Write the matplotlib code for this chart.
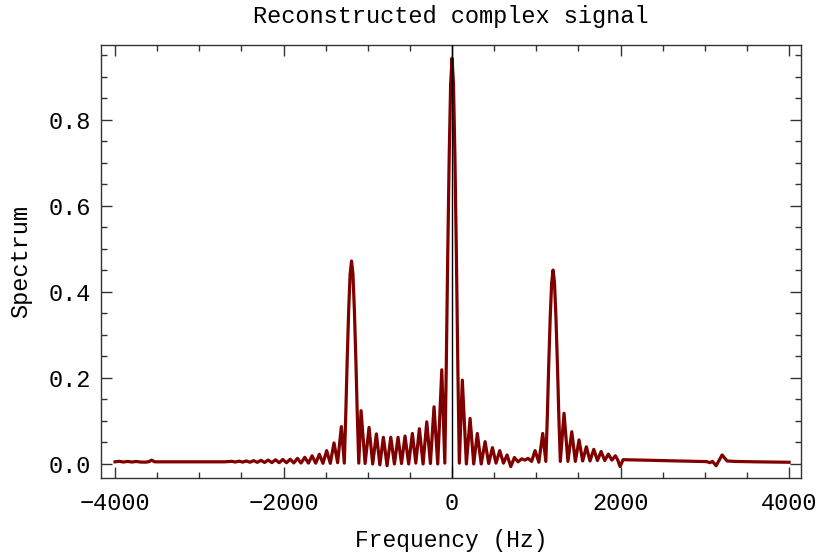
import matplotlib
matplotlib.use('Agg')
import matplotlib.pyplot as plt
from matplotlib.ticker import MultipleLocator, FixedLocator, FormatStrFormatter

plt.rcParams['font.family'] = ['Liberation Mono', 'DejaVu Sans Mono']

# spectrum (peaks and troughs of each lobe)
freq_hz = [
    -4000, -3950, -3900, -3850, -3800, -3750, -3700, -3640, -3600, -3565, -3530,
    -3450, -2700,
    -2615, -2572, -2528, -2485, -2442, -2398, -2355, -2312, -2268, -2225,
    -2182, -2138, -2095, -2052, -2008, -1965, -1921, -1878, -1835, -1792,
    -1748, -1705, -1661, -1618, -1575, -1532, -1488, -1445, -1401, -1358,
    -1314, -1279,
    -1262, -1245, -1227, -1210, -1193, -1176, -1159, -1141, -1124, -1107,
    -1080, -1032, -985, -942, -898, -857, -815, -771, -727, -684, -641, -600,
    -558, -515, -471, -430, -388, -344, -300, -257, -214, -170, -122, -86,
    -69, -52, -34, -17, 0, 17, 34, 52, 69, 86,
    122, 170, 214, 257, 300, 346, 392, 435, 479, 522, 566, 610, 653, 697,
    740, 783, 827, 865, 902, 944, 985, 1030, 1076, 1113,
    1130, 1147, 1165, 1182, 1199, 1216, 1233, 1251, 1268, 1285,
    1329, 1375, 1421, 1463, 1507, 1550, 1594, 1637, 1682, 1725, 1769, 1812,
    1855, 1897, 1938, 1965, 1994, 2030,
    3020, 3062, 3090, 3134, 3205, 3264, 3350, 3450, 3600, 3800, 4000,
]
spectrum = [
    0.0050, 0.0062, 0.0045, 0.0060, 0.0045, 0.0058, 0.0045, 0.0042, 0.0052, 0.0090, 0.0050,
    0.0050, 0.0050,
    0.0062, 0.0045, 0.0066, 0.0043, 0.0070, 0.0040, 0.0078, 0.0038, 0.0085, 0.0035,
    0.0090, 0.0032, 0.0098, 0.0030, 0.0105, 0.0028, 0.0110, 0.0025, 0.0130, 0.0022,
    0.0155, 0.0020, 0.0190, 0.0018, 0.0225, 0.0015, 0.0310, 0.0015, 0.0490, 0.0030,
    0.0870, 0.0020,
    0.110, 0.238, 0.357, 0.441, 0.472, 0.441, 0.357, 0.238, 0.110, 0.002,
    0.124, 0.001, 0.085, 0.000, 0.070, -0.002, 0.062, -0.004, 0.062, 0.000, 0.062, 0.001,
    0.065, 0.000, 0.071, 0.002, 0.082, 0.000, 0.098, 0.001, 0.133, 0.000, 0.219, 0.002,
    0.220, 0.477, 0.715, 0.883, 0.944, 0.883, 0.715, 0.477, 0.220, 0.002,
    0.195, 0.000, 0.106, 0.000, 0.071, 0.000, 0.052, 0.001, 0.038, 0.002, 0.031, 0.002, 0.021, -0.006,
    0.015, 0.005, 0.012, 0.009, 0.013, 0.006, 0.031, 0.004, 0.071, 0.006,
    0.106, 0.228, 0.341, 0.421, 0.451, 0.421, 0.341, 0.228, 0.106, 0.006,
    0.118, 0.006, 0.075, 0.006, 0.056, 0.007, 0.040, 0.007, 0.034, 0.008, 0.029, 0.008,
    0.023, 0.009, 0.019, 0.010, -0.006, 0.010,
    0.0055, 0.003, 0.006, -0.004, 0.021, 0.007, 0.006, 0.0055, 0.005, 0.0045, 0.004,
]

fig = plt.figure(figsize=(8.2, 5.56), dpi=100)
ax = fig.add_axes([0.1232, 0.1403, 0.8537, 0.7788])

ax.plot(freq_hz, spectrum, color='#800000', lw=2.3, solid_joinstyle='round', zorder=2)
ax.axvline(0, color='black', lw=1.0, zorder=3)

ax.set_xlim(-4166, 4142)
ax.set_ylim(-0.0326, 0.9744)

ax.xaxis.set_major_locator(FixedLocator([-4000, -2000, 0, 2000, 4000]))
ax.xaxis.set_minor_locator(MultipleLocator(500))
ax.yaxis.set_major_locator(MultipleLocator(0.2))
ax.yaxis.set_minor_locator(MultipleLocator(0.05))
ax.yaxis.set_major_formatter(FormatStrFormatter('%.1f'))

ax.tick_params(which='both', direction='in', top=True, right=True,
               color='#333333', labelsize=17)
ax.tick_params(which='major', length=8, width=1.0)
ax.tick_params(which='minor', length=4.5, width=1.0)
ax.tick_params(axis='x', which='major', pad=10)
ax.tick_params(axis='y', which='major', pad=7)
for s in ax.spines.values():
    s.set_color('#333333')
    s.set_linewidth(1.0)

ax.set_title('Reconstructed complex signal', fontsize=17, pad=16)
ax.set_xlabel('Frequency (Hz)', fontsize=16.5, labelpad=10)
ax.set_ylabel('Spectrum', fontsize=17, labelpad=12)

fig.savefig('out.png', dpi=100)
